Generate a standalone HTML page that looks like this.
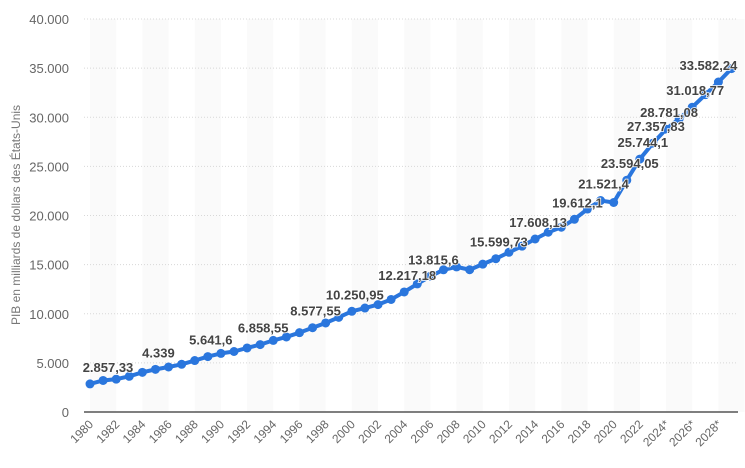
<!DOCTYPE html>
<html><head><meta charset="utf-8"><style>
body{margin:0;background:#fff;}
svg{display:block;font-family:"Liberation Sans",sans-serif;}
</style></head><body>
<svg id="chart" width="745" height="468"></svg>
<script>
const years = [];
for (let y = 1980; y <= 2029; y++) years.push(y);
const gdp = [2857.33,3207,3343.8,3634,4037.6,4339,4579.6,4855.2,5236.4,5641.6,5963.1,6158.1,6520.3,6858.55,7287.2,7639.7,8073.1,8577.55,9062.8,9631.2,10250.95,10581.9,10929.1,11456.5,12217.18,13039.2,13815.6,14474.2,14769.9,14478,15049,15599.73,16254,16880,17608.13,18295,18805,19612.1,20657,21521.4,21323,23594.05,25744.1,27357.83,28781.08,29840,31018.77,32300,33582.24,34950];
const labeledYears = [1980,1985,1989,1993,1997,2000,2004,2006,2011,2014,2017,2019,2021,2022,2023,2024,2026,2028];
const yTicks = [0,5000,10000,15000,20000,25000,30000,35000,40000];
const yTickLabels = ["0","5.000","10.000","15.000","20.000","25.000","30.000","35.000","40.000"];

const NS="http://www.w3.org/2000/svg";
const svg=document.getElementById('chart');
const x0=90, x1=731.5, yb=412, yt=19;
const xs=i=>x0+(x1-x0)*i/(years.length-1);
const ys=v=>yb-(yb-yt)*v/40000;
function mk(tag,attrs,parent){const e=document.createElementNS(NS,tag);for(const k in attrs)e.setAttribute(k,attrs[k]);(parent||svg).appendChild(e);return e;}
const step=xs(1)-xs(0);
for(let i=0;i<years.length;i+=4){
  const b=mk('rect',{x:xs(i),y:yt,width:step*2,height:yb-yt,fill:'#fafafa'});
  
  
}
yTicks.forEach((t,i)=>{
  if(t>0){const g=mk('line',{x1:84,x2:738,y1:ys(t),y2:ys(t),stroke:'#d8d8d8','stroke-dasharray':'1,2'});
  
  }
  const l=mk('text',{x:69,y:ys(t)+5,'text-anchor':'end','font-size':13,fill:'#666'});
  l.textContent=yTickLabels[i];
  
  
});
const base=mk('line',{x1:84,x2:738,y1:yb,y2:yb,stroke:'#555','stroke-width':1.5});


const yt1=mk('text',{transform:'translate(20,215) rotate(-90)','text-anchor':'middle','font-size':12,fill:'#777'});
yt1.textContent='PIB en milliards de dollars des États-Unis';


years.forEach((y,i)=>{
  if(i%2)return;
  const l=mk('text',{transform:`translate(${xs(i)+4},425) rotate(-45)`,'text-anchor':'end','font-size':12,fill:'#666'});
  l.textContent=y+(y>=2024?'*':'');
  
  
});
const pts=gdp.map((v,i)=>xs(i)+','+ys(v)).join(' ');
const line=mk('polyline',{points:pts,fill:'none',stroke:'#2a76dd','stroke-width':4,'stroke-linejoin':'round'});


gdp.forEach((v,i)=>{
  const c=mk('circle',{cx:xs(i),cy:ys(v),r:4.5,fill:'#2a76dd'});
  
  
});
labeledYears.forEach(y=>{
  const i=years.indexOf(y);const v=gdp[i];
  let s=v.toFixed(2).replace(/0+$/,'').replace(/\.$/,'');
  let [a,b]=s.split('.');a=a.replace(/\B(?=(\d{3})+(?!\d))/g,'.');
  const txt=b?a+','+b:a;
  let cx=xs(i)+3; if(y===1980)cx=xs(i)+18; if(y===2028)cx=xs(i)-10;
  const l=mk('text',{x:cx,y:ys(v)-12,'text-anchor':'middle','font-size':13,'font-weight':'bold',fill:'#444',stroke:'#fff','stroke-width':1.5,'paint-order':'stroke'});
  l.textContent=txt;
  
  
});
</script>
</body></html>
